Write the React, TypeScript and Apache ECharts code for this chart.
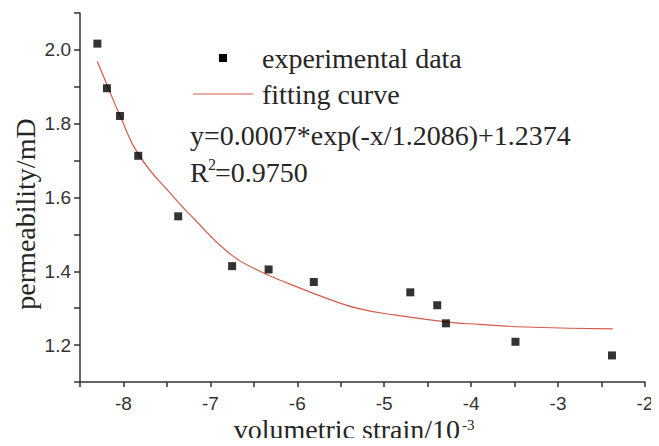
import React, { useEffect, useRef } from "react";
import * as echarts from "echarts";

// experimental data (volumetric strain /10^-3, permeability /mD)
const expX = [-8.30, -8.19, -8.04, -7.83, -7.37, -6.75, -6.33, -5.81, -4.70, -4.39, -4.29, -3.49, -2.38];
const expY = [2.017, 1.896, 1.821, 1.713, 1.549, 1.414, 1.405, 1.371, 1.343, 1.308, 1.259, 1.209, 1.172];

// fitting curve
const fitX = [-8.30, -8.18, -8.04, -7.82, -7.43, -7.20, -6.78, -6.43, -6.09, -5.63, -5.28, -4.86, -4.29, -3.90, -3.37, -2.37];
const fitY = [1.968, 1.900, 1.822, 1.714, 1.603, 1.545, 1.448, 1.400, 1.366, 1.324, 1.298, 1.281, 1.263, 1.256, 1.249, 1.244];

const legendNames = ["experimental data", "fitting curve"];
const equationText = "y=0.0007*exp(-x/1.2086)+1.2374";
const r2Label = "R";
const r2Exp = "2";
const r2Value = "=0.9750";
const xAxisName = "volumetric strain/10";
const xAxisExp = "-3";
const yAxisName = "permeability/mD";

const SERIF = "'Liberation Serif', 'Times New Roman', serif";
const SANS = "'Liberation Sans', Arial, sans-serif";
const CURVE = "#d65a4a";
const TXT = "#262626";
const FS = 28;

const txt = (text: string, x: number, y: number, size = FS, align = "left", extra: any = {}) => ({
  type: "text",
  x,
  y,
  ...extra,
  style: { text, font: `${size}px ${SERIF}`, fill: TXT, verticalAlign: "middle", align },
});

export default function App() {
  const ref = useRef<HTMLDivElement>(null);
  useEffect(() => {
    if (!ref.current) return;
    const chart = echarts.init(ref.current, null, { renderer: "svg" });
    const axisLine = { show: true, lineStyle: { color: "#333", width: 1.5 } };
    chart.setOption({
      animation: false,
      backgroundColor: "#ffffff",
      grid: { left: 80, top: 13, right: 14, bottom: 64, containLabel: false, outerBoundsMode: "none" },
      xAxis: {
        type: "value",
        min: -8.5,
        max: -2,
        interval: 0.5,
        axisLine,
        axisTick: { show: true, inside: false, length: 5, lineStyle: { color: "#333", width: 1.5 } },
        splitLine: { show: false },
        axisLabel: {
          margin: 12,
          fontSize: 19,
          fontFamily: SANS,
          color: "#333",
          showMinLabel: true,
          showMaxLabel: true,
          formatter: (v: number) => (Math.abs(v - Math.round(v)) < 1e-6 ? String(Math.round(v)) : ""),
        },
      },
      yAxis: {
        type: "value",
        min: 1.1,
        max: 2.1,
        interval: 0.1,
        axisLine,
        axisTick: { show: true, inside: false, length: 6, lineStyle: { color: "#333", width: 1.5 } },
        splitLine: { show: false },
        axisLabel: {
          margin: 9,
          fontSize: 19,
          fontFamily: SANS,
          color: "#333",
          formatter: (v: number) => (Math.round(v * 10) % 2 === 0 ? v.toFixed(1) : ""),
        },
      },
      series: [
        {
          name: legendNames[1],
          type: "line",
          smooth: 0.5,
          showSymbol: false,
          lineStyle: { color: CURVE, width: 1.2 },
          data: fitX.map((x, i) => [x, fitY[i]]),
          z: 2,
        },
        {
          name: legendNames[0],
          type: "scatter",
          symbol: "rect",
          symbolSize: 8,
          itemStyle: { color: "#000" },
          data: expX.map((x, i) => [x, expY[i]]),
          z: 3,
        },
      ],
      graphic: [
        { type: "rect", shape: { x: 219, y: 54, width: 8, height: 8 }, style: { fill: "#000" } },
        { type: "line", shape: { x1: 193, y1: 94, x2: 253, y2: 94 }, style: { stroke: CURVE, lineWidth: 1.2 } },
        txt(legendNames[0], 262, 58),
        txt(legendNames[1], 262, 94),
        txt(equationText, 190, 135),
        txt(r2Label, 190, 172),
        txt(r2Exp, 208, 164, 16),
        txt(r2Value, 215, 172),
        txt(xAxisName, 460, 429, FS, "right"),
        txt(xAxisExp, 462, 425, 15),
        txt(yAxisName, 25, 214, FS, "center", { rotation: Math.PI / 2 }),
      ],
    });
    return () => chart.dispose();
  }, []);
  return <div ref={ref} style={{ width: 659, height: 446, margin: -8 }} />;
}
